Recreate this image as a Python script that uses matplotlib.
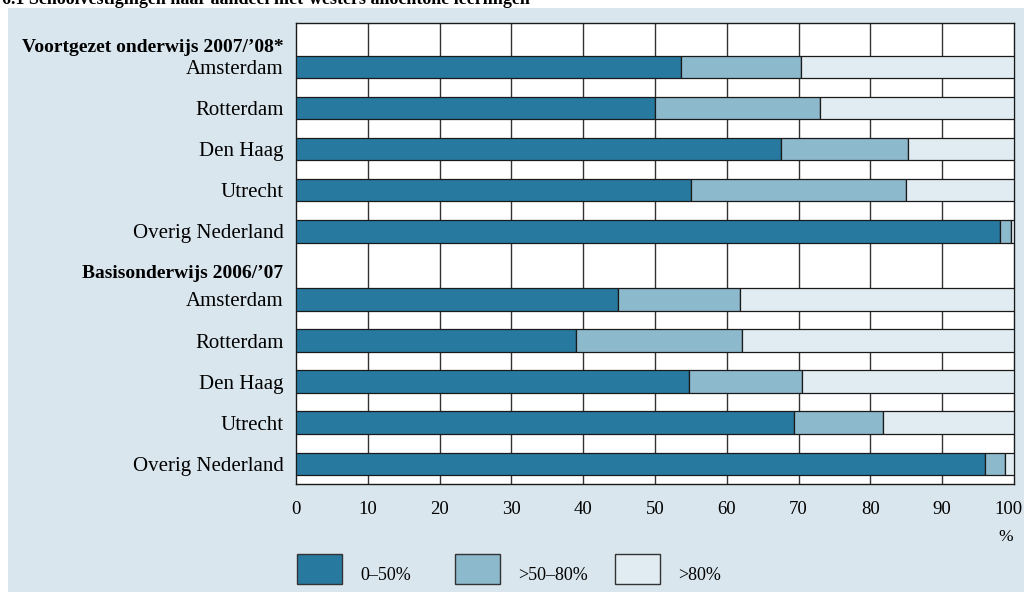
import numpy as np
import matplotlib.pyplot as plt
from matplotlib.patches import Rectangle
from matplotlib.transforms import ScaledTranslation

# Data (percent of schools by share of non-western pupils)
cities = ['Amsterdam', 'Rotterdam', 'Den Haag', 'Utrecht', 'Overig Nederland']
headers = ['Voortgezet onderwijs 2007/’08*', 'Basisonderwijs 2006/’07']
vo_low = [53.6, 50.0, 67.6, 55.0, 98.0]
vo_mid = [16.7, 23.0, 17.7, 30.0, 1.6]
bo_low = [44.9, 39.0, 54.7, 69.3, 96.0]
bo_mid = [16.9, 23.1, 15.8, 12.5, 2.7]
legend_labels = ['0–50%', '>50–80%', '>80%']
xticks = [0, 10, 20, 30, 40, 50, 60, 70, 80, 90, 100]

colors = ['#27799f', '#8db9cc', '#e1ecf2']
panel = '#d9e6ee'

plt.rcParams['font.family'] = ['Liberation Serif', 'DejaVu Serif']

W, H = 1024, 592
fig = plt.figure(figsize=(W / 100, H / 100), dpi=100)
fig.patches.append(Rectangle((8 / W, 0), 1, 1 - 8 / H, transform=fig.transFigure,
                             facecolor=panel, edgecolor='none', zorder=-10))
fig.text(2 / W, 1.0, '6.1 Schoolvestigingen naar aandeel niet-westers allochtone leerlingen',
         fontsize=13, fontweight='bold', va='center', ha='left')

ax = fig.add_axes([296 / W, 1 - 484 / H, 718 / W, 461 / H])
ax.set_facecolor('white')

# row positions
pos_vo = np.arange(5)
pos_bo = np.arange(5) + 5.66
head_pos = [-0.53, 4.99]

low = np.array(vo_low + bo_low)
mid = np.array(vo_mid + bo_mid)
high = 100 - low - mid
pos = np.concatenate([pos_vo, pos_bo])

h = 0.55
kw = dict(height=h, edgecolor='#1a1a1a', linewidth=0.9, zorder=3)
ax.barh(pos, low, color=colors[0], **kw)
ax.barh(pos, mid, left=low, color=colors[1], **kw)
ax.barh(pos, high, left=low + mid, color=colors[2], **kw)

for x in xticks[1:-1]:
    ax.axvline(x, color='#333333', lw=1.0, zorder=1)

ax.set_xlim(0, 100)
ax.set_ylim(10.15, -1.066)
ax.set_xticks(xticks)
ax.set_xticklabels([str(t) for t in xticks], fontsize=13.5)
ax.tick_params(axis='x', length=0, pad=12)
last = ax.get_xticklabels()[-1]
last.set_ha('right')
last.set_transform(last.get_transform() + ScaledTranslation(9 / 100, 0, fig.dpi_scale_trans))

yt = list(pos) + head_pos
yl = cities + cities + headers
ax.set_yticks(yt)
ax.set_yticklabels(yl, fontsize=15)
for lab in ax.get_yticklabels()[-2:]:
    lab.set_fontweight('bold')
    lab.set_fontsize(14)
ax.tick_params(axis='y', length=0, pad=9)

for s in ax.spines.values():
    s.set_color('#1a1a1a')
    s.set_linewidth(1.0)

fig.text(1006 / W, 1 - 537 / H, '%', fontsize=12.5, ha='center', va='center')

# legend: boxes with labels, placed in figure pixels
lx = [297, 455, 615]
for x0, c, lab in zip(lx, colors, legend_labels):
    fig.patches.append(Rectangle((x0 / W, 1 - 584 / H), 45 / W, 30 / H, transform=fig.transFigure,
                                 facecolor=c, edgecolor='#333333', linewidth=1.0))
    fig.text((x0 + 63) / W, 1 - 580 / H, lab, fontsize=13, ha='left', va='baseline')

fig.savefig('out.png', dpi=100, facecolor='white')
